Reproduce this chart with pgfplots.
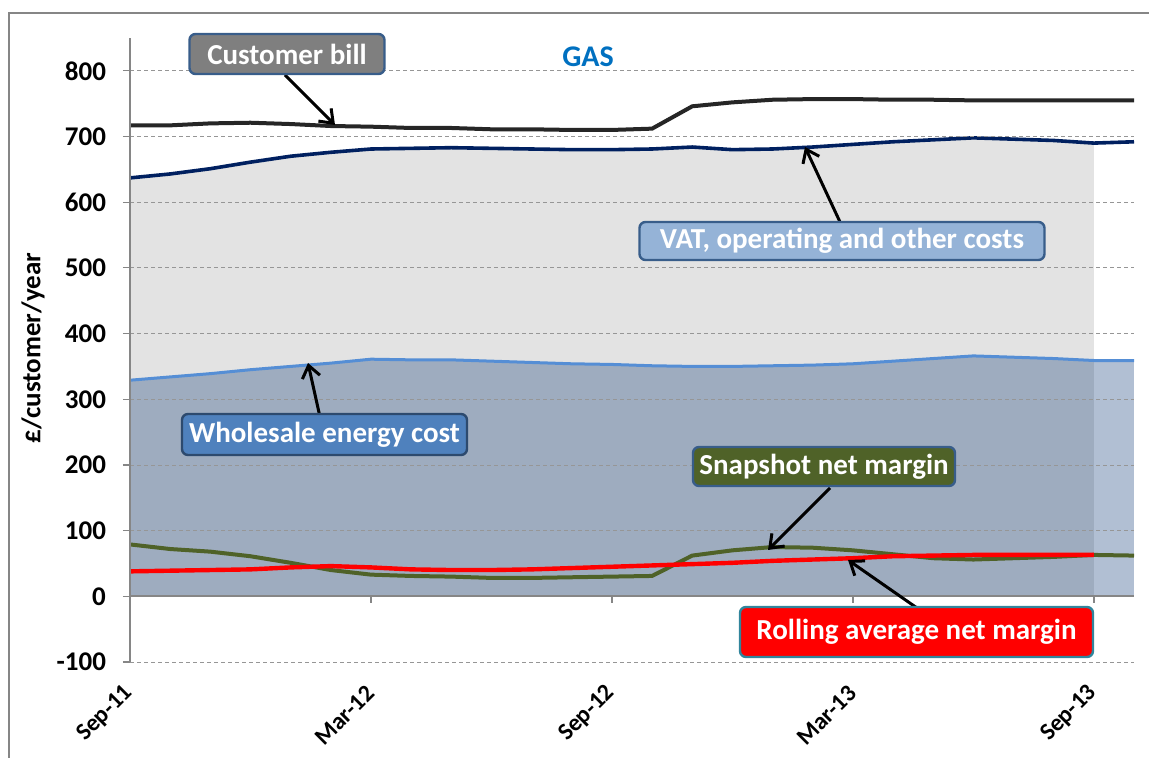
\documentclass[border=0pt]{standalone}
\usepackage{fontspec}
\setmainfont{Carlito}
\usepackage{pgfplots}
\pgfplotsset{compat=1.18}
\usetikzlibrary{arrows.meta}
\definecolor{bgrey}{RGB}{227,227,227}
\definecolor{wfill}{RGB}{158,172,191}
\definecolor{wfilltwo}{RGB}{177,191,211}
\definecolor{cbill}{RGB}{38,38,38}
\definecolor{vat}{RGB}{0,32,96}
\definecolor{whole}{RGB}{85,142,213}
\definecolor{snap}{RGB}{79,98,40}
\definecolor{gridc}{RGB}{150,150,150}
\definecolor{axc}{RGB}{134,134,134}
\definecolor{boxborder}{RGB}{56,93,138}
\definecolor{gasblue}{RGB}{0,112,192}
\definecolor{cbfill}{RGB}{127,127,127}
\definecolor{vatfill}{RGB}{149,179,215}
\definecolor{wsfill}{RGB}{79,129,189}
\definecolor{rollborder}{RGB}{49,133,156}
\begin{document}
\begin{tikzpicture}
\begin{scope}[x=0.5pt,y=0.5pt]
\path[use as bounding box] (0,0) rectangle (1149,758);
\draw[axc, line width=0.6pt] (9,0) -- (9,745) -- (1149,745);
\end{scope}
\begin{axis}[
  at={(65pt,48pt)}, anchor=south west,
  scale only axis, width=502pt, height=312pt,
  xmin=0, xmax=25, ymin=-100, ymax=850,
  axis on top=true,
  axis x line*=bottom, axis y line*=left,
  x axis line style={draw=none},
  y axis line style={draw=axc, line width=0.6pt},
  xtick={0,6,12,18,24},
  xticklabels={Sep-11,Mar-12,Sep-12,Mar-13,Sep-13},
  xtick style={draw=none},
  xticklabel style={rotate=45, anchor=east, xshift=-4pt, yshift=-7pt, font=\bfseries\fontsize{12}{14}\selectfont},
  ytick={-100,0,100,200,300,400,500,600,700,800},
  yticklabels={-100,0,100,200,300,400,500,600,700,800},
  yticklabel style={xshift=-5pt, font=\bfseries\fontsize{13.5}{16}\selectfont},
  ytick style={draw=axc, line width=0.6pt},
  tick align=outside, major tick length=3.5pt,
  ymajorgrids, grid style={draw=gridc, line width=0.4pt, dash pattern=on 2pt off 1.5pt},
]
% light grey area (VAT, operating and other costs)
\addplot[draw=none, fill=bgrey] coordinates {
(0,0) (0,637) (1,643) (2,651) (3,661) (4,670) (5,676) (6,681) (7,682) (8,683) (9,682) (10,681) (11,680) (12,680)
(13,681) (14,684) (15,680) (16,681) (17,684) (18,688) (19,692) (20,695) (21,698) (22,696) (23,694) (24,690) (24,0)} -- cycle;
% wholesale area
\addplot[draw=none, fill=wfill] coordinates {
(0,0) (0,329) (1,334) (2,339) (3,345) (4,350) (5,355) (6,361) (7,360) (8,360) (9,358) (10,356) (11,354) (12,353)
(13,351) (14,350) (15,350) (16,351) (17,352) (18,354) (19,358) (20,362) (21,366) (22,364) (23,362) (24,359) (24,0)} -- cycle;
\addplot[draw=none, fill=wfilltwo] coordinates {(24,0) (24,359) (25,359) (25,0)} -- cycle;
% wholesale line
\addplot[whole, line width=1.5pt] coordinates {
(0,329) (1,334) (2,339) (3,345) (4,350) (5,355) (6,361) (7,360) (8,360) (9,358) (10,356) (11,354) (12,353)
(13,351) (14,350) (15,350) (16,351) (17,352) (18,354) (19,358) (20,362) (21,366) (22,364) (23,362) (24,359) (25,359)};
% VAT line
\addplot[vat, line width=1.8pt] coordinates {
(0,637) (1,643) (2,651) (3,661) (4,670) (5,676) (6,681) (7,682) (8,683) (9,682) (10,681) (11,680) (12,680)
(13,681) (14,684) (15,680) (16,681) (17,684) (18,688) (19,692) (20,695) (21,698) (22,696) (23,694) (24,690) (25,692)};
% customer bill
\addplot[cbill, line width=2pt] coordinates {
(0,717) (1,717) (2,720) (3,721) (4,719) (5,716) (6,715) (7,713) (8,713) (9,711) (10,711) (11,710) (12,710)
(13,712) (14,746) (15,752) (16,756) (17,757) (18,757) (19,756) (20,756) (21,755) (22,755) (23,755) (24,755) (25,755)};
% snapshot net margin
\addplot[snap, line width=2pt] coordinates {
(0,79) (1,72) (2,68) (3,61) (4,51) (5,40) (6,33) (7,31) (8,30) (9,28) (10,28) (11,29) (12,30)
(13,31) (14,62) (15,70) (16,75) (17,74) (18,70) (19,64) (20,58) (21,56) (22,58) (23,60) (24,63) (25,62)};
% rolling average net margin
\addplot[red, line width=2.2pt] coordinates {
(0,38) (1,39) (2,40) (3,41) (4,44) (5,46) (6,44) (7,41) (8,40) (9,40) (10,41) (11,43) (12,45)
(13,47) (14,49) (15,51) (16,54) (17,56) (18,58) (19,61) (20,62) (21,63) (22,63) (23,63) (24,63)};
\end{axis}
\begin{scope}[x=0.5pt,y=0.5pt]
% x axis at zero and its ticks
\draw[axc, line width=0.6pt] (130,162) -- (1134,162);
\draw[axc, line width=0.6pt] (371,162) -- (371,155) (612,162) -- (612,155) (853,162) -- (853,155) (1094,162) -- (1094,155);
% y label
\node[rotate=90, font=\bfseries\fontsize{13.5}{16}\selectfont] at (33,410) {£/customer/year};
% title
\node[text=gasblue, font=\bfseries\fontsize{15}{18}\selectfont] at (588,701) {GAS};
% arrows
\begin{scope}[line width=1.5pt, -{Straight Barb[length=6pt,width=9pt,line width=1.5pt]}]
\draw (285,683) -- (335,633);
\draw (840,536) -- (805,611);
\draw (320,341) -- (308,395);
\draw (830,270) -- (768,208);
\draw (917,150) -- (848,198);
\end{scope}
% callout boxes
\tikzset{callout/.style={rounded corners=3pt, line width=1.2pt, text=white, inner sep=0pt,
  font=\bfseries\fontsize{14.5}{17}\selectfont}}
\node[callout, draw=boxborder, fill=cbfill, minimum width=97.5pt, minimum height=20pt] at (287,704) {Customer bill};
\node[callout, draw=boxborder, fill=vatfill, minimum width=202.5pt, minimum height=19pt] at (842,517) {VAT, operating and other costs};
\node[callout, draw=boxborder!80!black, fill=wsfill, minimum width=142.5pt, minimum height=20.5pt] at (324.5,323.5) {Wholesale energy cost};
\node[callout, draw=boxborder, fill=snap, minimum width=131pt, minimum height=19.5pt] at (824,291.5) {Snapshot net margin};
\node[callout, draw=rollborder, fill=red, minimum width=176.5pt, minimum height=25pt] at (916.5,126) {Rolling average net margin};
\end{scope}
\end{tikzpicture}
\end{document}
